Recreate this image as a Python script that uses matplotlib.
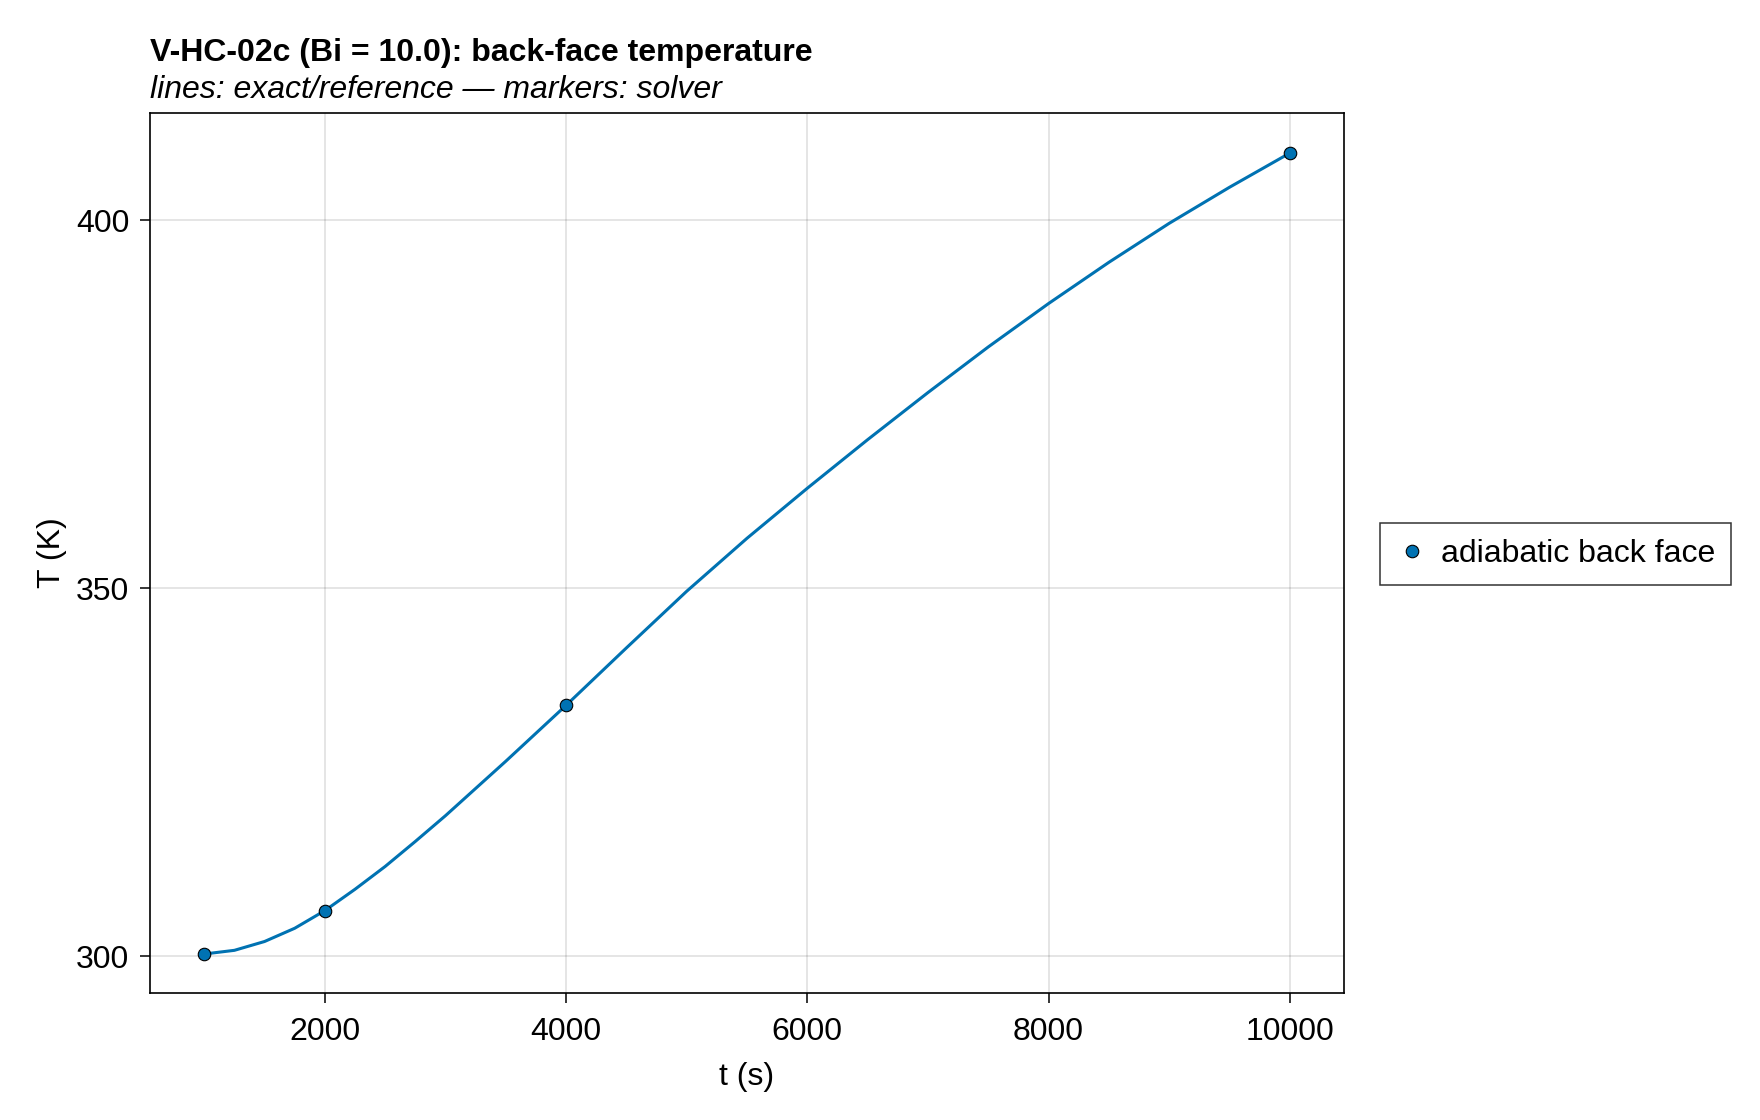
import matplotlib
matplotlib.use("Agg")
import matplotlib.pyplot as plt

# Reference (exact) curve
t_ref = [1000, 1250, 1500, 1750, 2000, 2250, 2500, 2750, 3000, 3500, 4000, 4500, 5000,
         5500, 6000, 6500, 7000, 7500, 8000, 8500, 9000, 9500, 10000]
T_ref = [300.3, 300.8, 302.0, 303.8, 306.2, 309.1, 312.2, 315.6, 319.1, 326.5, 334.1,
         341.9, 349.6, 356.8, 363.6, 370.2, 376.6, 382.8, 388.7, 394.3, 399.6, 404.5, 409.15]

# Solver points
t_solver = [1000, 2000, 4000, 10000]
T_solver = [300.3, 306.2, 334.1, 409.15]

series_label = "adiabatic back face"
title = "V-HC-02c (Bi = 10.0): back-face temperature"
subtitle = "lines: exact/reference \u2014 markers: solver"

color = "#0072B2"
fs = 23

plt.rcParams["font.family"] = ["Liberation Sans", "DejaVu Sans"]

fig = plt.figure(figsize=(17.6, 11.2), dpi=100)
ax = fig.add_axes([150 / 1760, 1 - 993 / 1120, 1194 / 1760, 880 / 1120])

ax.plot(t_ref, T_ref, color=color, linewidth=2.2, zorder=2)
ax.plot(t_solver, T_solver, linestyle="none", marker="o", markersize=9,
        markerfacecolor=color, markeredgecolor="black", markeredgewidth=0.8,
        label=series_label, zorder=3)

ax.set_xlim(550, 10450)
ax.set_ylim(295.0, 414.6)
ax.set_xticks([2000, 4000, 6000, 8000, 10000])
ax.set_yticks([300, 350, 400])

ax.grid(True, color="black", alpha=0.12, linewidth=1.2)
ax.set_axisbelow(True)
for s in ax.spines.values():
    s.set_linewidth(1.2)
ax.tick_params(axis="both", labelsize=fs, length=7, width=1.1)
ax.tick_params(axis="x", pad=10)
ax.tick_params(axis="y", pad=8)

ax.set_xlabel("t (s)", fontsize=fs, labelpad=11)
ax.set_ylabel("T (K)", fontsize=fs)
ax.yaxis.set_label_coords((67 - 150) / 1194, 0.5)

fig.text(150 / 1760, 1 - 60.7 / 1120, title, fontsize=fs, fontweight="bold",
         ha="left", va="baseline")
fig.text(150 / 1760, 1 - 97.5 / 1120, subtitle, fontsize=fs, style="italic",
         ha="left", va="baseline")

leg = fig.legend(loc="center left", bbox_to_anchor=(1379.5 / 1760, 1 - 554 / 1120),
                 fontsize=fs, frameon=True, fancybox=False, borderaxespad=0,
                 handletextpad=0.4, handlelength=1.03, borderpad=0.5)
leg.get_frame().set_edgecolor("black")
leg.get_frame().set_linewidth(1.1)

fig.savefig("out.png", dpi=100)
